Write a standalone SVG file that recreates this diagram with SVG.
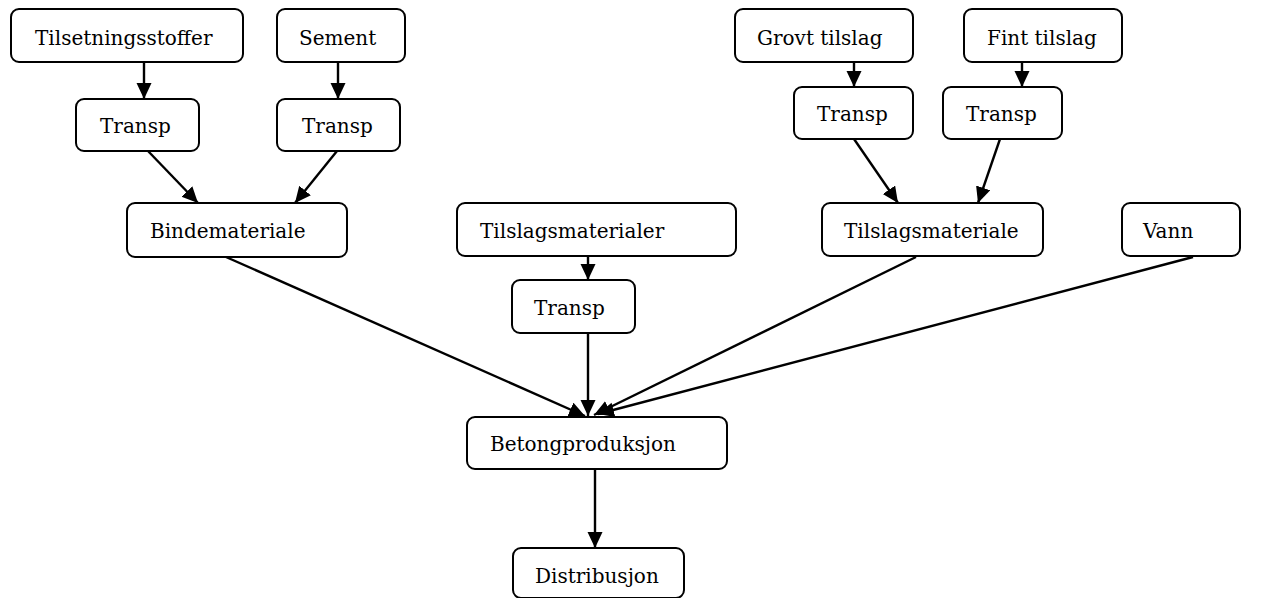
<svg xmlns="http://www.w3.org/2000/svg" width="1262" height="598" viewBox="0 0 1262 598">
  <style>
    .box { fill: #ffffff; stroke: #000000; stroke-width: 2; }
    .lbl { font-family: "DejaVu Serif", "Liberation Serif", serif; font-size: 20px; fill: #000000; }
    .edge { stroke: #000000; stroke-width: 2.4; fill: none; marker-end: url(#arrow); }
  </style>
  <defs>
    <marker id="arrow" markerUnits="userSpaceOnUse" markerWidth="17" markerHeight="16" refX="16" refY="7.5" orient="auto">
      <path d="M0,0 L16,7.5 L0,15 z" fill="#000000"/>
    </marker>
  </defs>
  <rect width="1262" height="598" fill="#ffffff"/>

  <g id="connectors">
    <line class="edge" x1="144" y1="62" x2="144" y2="99"/>
    <line class="edge" x1="338" y1="62" x2="338" y2="99"/>
    <line class="edge" x1="148" y1="151" x2="198" y2="203"/>
    <line class="edge" x1="337" y1="151" x2="295" y2="203"/>
    <line class="edge" x1="854" y1="62" x2="854" y2="87"/>
    <line class="edge" x1="1022" y1="62" x2="1022" y2="87"/>
    <line class="edge" x1="854" y1="139" x2="898" y2="203"/>
    <line class="edge" x1="1000" y1="139" x2="978" y2="203"/>
    <line class="edge" x1="588" y1="256" x2="588" y2="280"/>
    <line class="edge" x1="226" y1="257" x2="585" y2="416"/>
    <line class="edge" x1="588" y1="333" x2="588" y2="416"/>
    <line class="edge" x1="916" y1="257" x2="594" y2="415"/>
    <line class="edge" x1="1193" y1="257" x2="598" y2="414"/>
    <line class="edge" x1="595" y1="469" x2="595" y2="548"/>
  </g>

  <g id="tilsetningsstoffer">
    <rect class="box" x="11" y="9" width="232" height="53" rx="8"/>
    <text class="lbl" x="35" y="45">Tilsetningsstoffer</text>
  </g>
  <g id="sement">
    <rect class="box" x="277" y="9" width="128" height="53" rx="8"/>
    <text class="lbl" x="299" y="45">Sement</text>
  </g>
  <g id="transp-1">
    <rect class="box" x="76" y="99" width="123" height="52" rx="8"/>
    <text class="lbl" x="100" y="133">Transp</text>
  </g>
  <g id="transp-2">
    <rect class="box" x="277" y="99" width="123" height="52" rx="8"/>
    <text class="lbl" x="302" y="133">Transp</text>
  </g>
  <g id="bindemateriale">
    <rect class="box" x="127" y="203" width="220" height="54" rx="8"/>
    <text class="lbl" x="150" y="238">Bindemateriale</text>
  </g>
  <g id="grovt-tilslag">
    <rect class="box" x="735" y="9" width="178" height="53" rx="8"/>
    <text class="lbl" x="757" y="45">Grovt tilslag</text>
  </g>
  <g id="fint-tilslag">
    <rect class="box" x="964" y="9" width="158" height="53" rx="8"/>
    <text class="lbl" x="987" y="45">Fint tilslag</text>
  </g>
  <g id="transp-3">
    <rect class="box" x="794" y="87" width="119" height="52" rx="8"/>
    <text class="lbl" x="817" y="121">Transp</text>
  </g>
  <g id="transp-4">
    <rect class="box" x="943" y="87" width="119" height="52" rx="8"/>
    <text class="lbl" x="966" y="121">Transp</text>
  </g>
  <g id="tilslagsmateriale">
    <rect class="box" x="822" y="203" width="221" height="53" rx="8"/>
    <text class="lbl" x="844" y="238">Tilslagsmateriale</text>
  </g>
  <g id="vann">
    <rect class="box" x="1122" y="203" width="118" height="53" rx="8"/>
    <text class="lbl" x="1143" y="238">Vann</text>
  </g>
  <g id="tilslagsmaterialer">
    <rect class="box" x="457" y="203" width="279" height="53" rx="8"/>
    <text class="lbl" x="480" y="238">Tilslagsmaterialer</text>
  </g>
  <g id="transp-5">
    <rect class="box" x="512" y="280" width="123" height="53" rx="8"/>
    <text class="lbl" x="534" y="315">Transp</text>
  </g>
  <g id="betongproduksjon">
    <rect class="box" x="467" y="417" width="260" height="52" rx="8"/>
    <text class="lbl" x="490" y="451">Betongproduksjon</text>
  </g>
  <g id="distribusjon">
    <rect class="box" x="513" y="548" width="171" height="50" rx="8"/>
    <text class="lbl" x="535" y="583">Distribusjon</text>
  </g>
</svg>
